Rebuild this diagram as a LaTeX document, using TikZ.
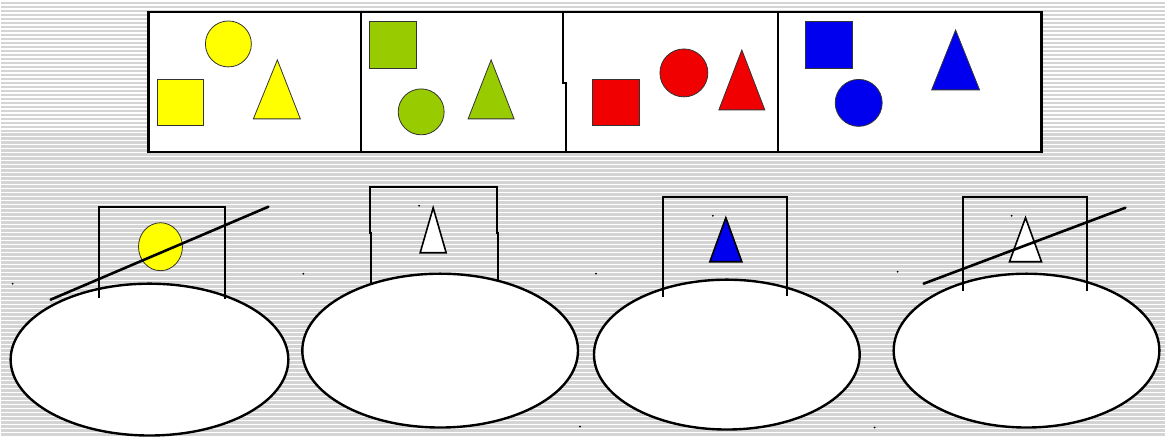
\documentclass[tikz,border=0pt]{standalone}
\usepackage{tikz}

\definecolor{shapeyellow}{HTML}{FFFF00}
\definecolor{shapegreen}{HTML}{99CC00}
\definecolor{shapered}{HTML}{F00000}
\definecolor{shapeblue}{HTML}{0000EE}
\definecolor{stripegray}{HTML}{D4D4D4}

\begin{document}
\begin{tikzpicture}[
        x=1pt, y=-1pt,
        frame/.style={line width=2.4pt, draw=black},
        figure/.style={draw=black!80, line width=0.8pt},
        plate/.style={line width=2.4pt, draw=black, fill=white},
        holder/.style={line width=2pt, draw=black},
        strike/.style={line width=2.6pt, draw=black, line cap=round},
        speck/.style={fill=black, inner sep=0pt, minimum size=2pt, circle}
    ]

    % Striped background
    \fill[stripegray] (0,0) rectangle (1166,437);
    \foreach \y in {1,5,...,437}
        \draw[white, line width=1.3pt] (0,\y) -- (1166,\y);
    \useasboundingbox (0,0) rectangle (1166,437);

    % Top strip with four groups
    \filldraw[frame, fill=white] (148,12) rectangle (1042,152);
    \draw[frame] (361,12) -- (361,152);
    \draw[frame] (563,12) -- (563,83) -- (566,83) -- (566,152);
    \draw[frame] (778,12) -- (778,152);

    % Yellow group
    \filldraw[figure, fill=shapeyellow] (228,44) circle [radius=23];
    \filldraw[figure, fill=shapeyellow] (157,79) rectangle (203,126);
    \filldraw[figure, fill=shapeyellow] (277,60) -- (300,119) -- (253,119) -- cycle;

    % Green group
    \filldraw[figure, fill=shapegreen] (369,21) rectangle (416,68);
    \filldraw[figure, fill=shapegreen] (421,112) circle [radius=23];
    \filldraw[figure, fill=shapegreen] (491,60) -- (514,119) -- (468,119) -- cycle;

    % Red group
    \filldraw[figure, fill=shapered] (592,79) rectangle (639,126);
    \filldraw[figure, fill=shapered] (684,73) circle [radius=24];
    \filldraw[figure, fill=shapered] (742,50) -- (765,110) -- (719,110) -- cycle;

    % Blue group
    \filldraw[figure, fill=shapeblue] (806,21) rectangle (853,68);
    \filldraw[figure, fill=shapeblue] (859,103) circle [radius=23.5];
    \filldraw[figure, fill=shapeblue] (956,30) -- (980,90) -- (932,90) -- cycle;

    % Plates
    \filldraw[plate] (149,360) ellipse [x radius=139, y radius=76];
    \filldraw[plate] (440,351) ellipse [x radius=138, y radius=77];
    \filldraw[plate] (727,355) ellipse [x radius=133, y radius=75];
    \filldraw[plate] (1027,351) ellipse [x radius=133, y radius=77];

    % Holders
    \draw[holder] (98,298) -- (98,207) -- (225,207) -- (225,299);
    \draw[holder] (371,285) -- (371,233) -- (370,233) -- (370,187)
        -- (497,187) -- (497,233) -- (498,233) -- (498,281);
    \draw[holder] (663,297) -- (663,197) -- (787,197) -- (787,296);
    \draw[holder] (963,291) -- (963,197) -- (1088,197) -- (1088,291);

    % Cards in the holders
    \filldraw[figure, fill=shapeyellow] (160,247) ellipse [x radius=22, y radius=24];
    \filldraw[holder, fill=white, line width=1.6pt] (433,208) -- (446,253) -- (420,253) -- cycle;
    \filldraw[holder, fill=shapeblue, line width=1.6pt] (726,218) -- (742,262) -- (710,262) -- cycle;
    \filldraw[holder, fill=white, line width=1.6pt] (1026,218) -- (1042,262) -- (1010,262) -- cycle;

    % Crossed out
    \draw[strike] (50,300) -- (268,207);
    \draw[strike] (924,284) -- (1126,208);

    % Specks
    \node[speck] (s1) at (12,284) {};
    \node[speck] (s2) at (303,274) {};
    \node[speck] (s3) at (596,274) {};
    \node[speck] (s4) at (898,272) {};
    \node[speck] (s5) at (580,427) {};
    \node[speck] (s6) at (875,428) {};
    \node[speck] (s7) at (419,206) {};
    \node[speck] (s8) at (713,216) {};
    \node[speck] (s9) at (1012,216) {};

\end{tikzpicture}
\end{document}
